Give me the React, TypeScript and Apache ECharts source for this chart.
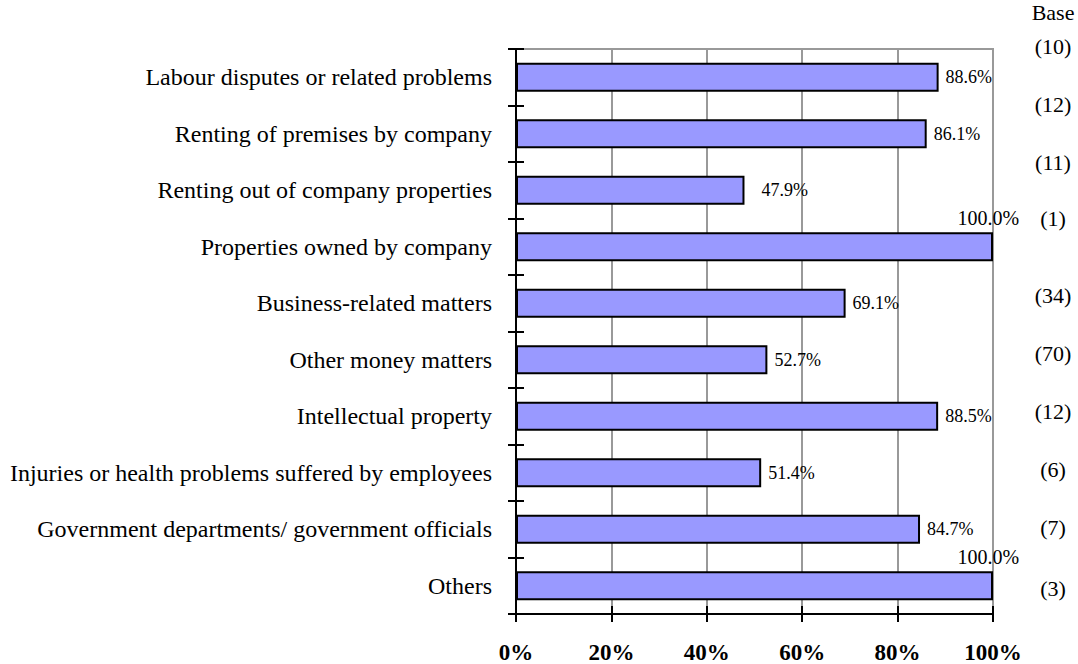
import React, { useEffect, useRef } from "react";
import * as echarts from "echarts";

const categories = [
  "Labour disputes or related problems",
  "Renting of premises by company",
  "Renting out of company properties",
  "Properties owned by company",
  "Business-related matters",
  "Other money matters",
  "Intellectual property",
  "Injuries or health problems suffered by employees",
  "Government departments/ government officials",
  "Others",
];
const percentages = [88.6, 86.1, 47.9, 100.0, 69.1, 52.7, 88.5, 51.4, 84.7, 100.0];
const baseCounts = [10, 12, 11, 1, 34, 70, 12, 6, 7, 3];
const baseHeader = "Base";
const xMin = 0;
const xMax = 100;
const xStep = 20;

// layout of the base annotations (vertical centre of each text)
const baseLabelY = [46, 104, 162, 218, 295, 353, 411, 469, 527, 588];

const FONT = "Liberation Serif";

export default function App() {
  const ref = useRef<HTMLDivElement>(null);
  useEffect(() => {
    if (!ref.current) return;
    const chart = echarts.init(ref.current, null, { renderer: "svg" });
    const seriesData = percentages.map((v, i) => {
      if (v >= 100) {
        return {
          value: v,
          label: {
            position: ["99%", -14],
            align: "center",
            verticalAlign: "middle",
            fontSize: 20,
          },
        };
      }
      if (i === 2) return { value: v, label: { distance: 17 } };
      return v;
    });
    const textStyle = {
      fontFamily: FONT,
      fontSize: 22,
      fill: "#000",
      align: "center",
      verticalAlign: "middle",
    };
    const graphics: any[] = [
      { type: "text", x: 1053, y: 12, style: { ...textStyle, text: baseHeader } },
      ...baseCounts.map((b, i) => ({
        type: "text",
        x: 1053,
        y: baseLabelY[i],
        style: { ...textStyle, text: `(${b})` },
      })),
    ];
    chart.setOption({
      animation: false,
      backgroundColor: "#fff",
      textStyle: { fontFamily: FONT },
      grid: {
        left: 516,
        right: 85,
        top: 49,
        bottom: 47,
        show: true,
        borderColor: "#999",
        borderWidth: 2,
        backgroundColor: "transparent",
      },
      xAxis: [
        {
          type: "value",
          position: "bottom",
          min: xMin,
          max: xMax,
          interval: xStep,
          axisLine: { show: true, lineStyle: { color: "#000", width: 2 } },
          axisTick: { show: true, length: 8, lineStyle: { color: "#000", width: 2 } },
          axisLabel: {
            formatter: "{value}%",
            fontFamily: FONT,
            fontWeight: "bold",
            fontSize: 23,
            color: "#000",
            margin: 27,
          },
          splitLine: { show: true, lineStyle: { color: "#999", width: 2 } },
        },
        {
          type: "value",
          position: "bottom",
          min: xMin,
          max: xMax,
          interval: xStep,
          axisLine: { show: true, lineStyle: { color: "#000", width: 2 } },
          axisTick: { show: true, inside: true, length: 8, lineStyle: { color: "#000", width: 2 } },
          axisLabel: { show: false },
          splitLine: { show: false },
        },
      ],
      yAxis: [
        {
          type: "category",
          data: categories,
          inverse: true,
          position: "left",
          axisLine: { show: true, lineStyle: { color: "#000", width: 2 } },
          axisTick: { show: true, length: 8, lineStyle: { color: "#000", width: 2 } },
          axisLabel: { fontFamily: FONT, fontSize: 24, color: "#000", margin: 24 },
          splitLine: { show: false },
        },
        {
          type: "category",
          data: categories,
          inverse: true,
          position: "left",
          axisLine: { show: true, lineStyle: { color: "#000", width: 2 } },
          axisTick: { show: true, inside: true, length: 8, lineStyle: { color: "#000", width: 2 } },
          axisLabel: { show: false },
          splitLine: { show: false },
        },
      ],
      series: [
        {
          type: "bar",
          xAxisIndex: 0,
          yAxisIndex: 0,
          data: seriesData,
          barCategoryGap: "49%",
          itemStyle: { color: "#9999FF", borderColor: "#000", borderWidth: 2 },
          label: {
            show: true,
            position: "right",
            distance: 7,
            formatter: (p: any) => `${Number(p.value).toFixed(1)}%`,
            fontFamily: FONT,
            fontSize: 18,
            color: "#000",
          },
        },
      ],
      graphic: graphics,
    });
    return () => chart.dispose();
  }, []);
  return (
    <div
      ref={ref}
      style={{ position: "fixed", left: 0, top: 0, width: 1078, height: 664, background: "#fff" }}
    />
  );
}
